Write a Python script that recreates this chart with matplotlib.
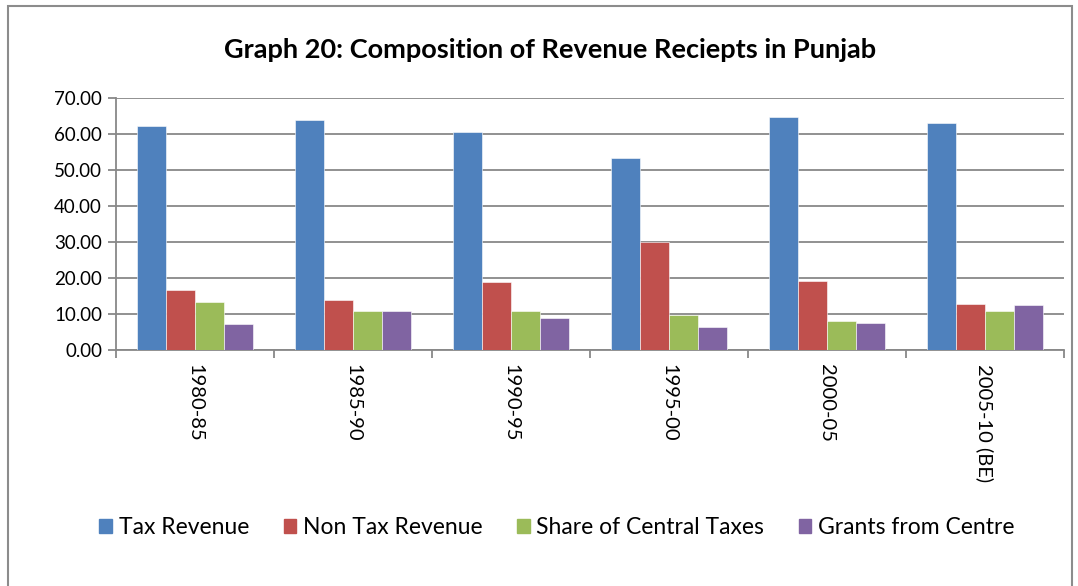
import matplotlib.pyplot as plt
import matplotlib.patches as mpatches
import numpy as np

plt.rcParams['font.family'] = ['Lato', 'DejaVu Sans']

# data
periods = ['1980-85', '1985-90', '1990-95', '1995-00', '2000-05', '2005-10 (BE)']
tax_rev = [62.3, 63.9, 60.5, 53.3, 64.6, 63.1]
non_tax_rev = [16.7, 13.8, 18.9, 29.9, 19.3, 12.8]
central_share = [13.3, 10.8, 10.9, 9.7, 8.1, 10.9]
grants = [7.2, 10.9, 8.9, 6.3, 7.4, 12.6]

series = [tax_rev, non_tax_rev, central_share, grants]
names = ['Tax Revenue', 'Non Tax Revenue', 'Share of Central Taxes', 'Grants from Centre']
colors = ['#4F81BD', '#C0504D', '#9BBB59', '#8064A2']

fig = plt.figure(figsize=(10.78, 5.86), dpi=100)
ax = fig.add_axes([116/1078, 1-350/586, (1064-116)/1078, (350-98)/586])

x = np.arange(len(periods))
w = 0.183
for k, (vals, c) in enumerate(zip(series, colors)):
    ax.bar(x + (k-1.5)*w, vals, width=w, color=c, edgecolor='white', linewidth=0.4, zorder=3)

ax.set_xlim(-0.5, len(periods)-0.5)
ax.set_ylim(0, 70)
ax.set_yticks(np.arange(0, 71, 10))
ax.set_yticklabels(['%.2f' % v for v in np.arange(0, 71, 10)], fontsize=13.5)
ax.yaxis.grid(True, color='#888888', linewidth=1.3, zorder=0)

# category labels centred, tick marks at the group boundaries
ax.set_xticks(np.arange(-0.5, len(periods), 1))
ax.set_xticklabels([])
ax.set_xticks(x, minor=True)
ax.set_xticklabels(periods, minor=True, rotation=-90, fontsize=14.5, va='top')
ax.tick_params(axis='x', which='minor', length=0, pad=10)
ax.tick_params(axis='x', which='major', length=6, color='#888888', width=1.3)
ax.tick_params(axis='y', length=6, color='#888888', width=1.3, pad=4)

for s in ['top', 'right']:
    ax.spines[s].set_visible(False)
for s in ['left', 'bottom']:
    ax.spines[s].set_color('#888888')
    ax.spines[s].set_linewidth(1.3)

fig.text(550/1078, 1-50/586, 'Graph 20: Composition of Revenue Reciepts in Punjab',
         ha='center', va='center', fontsize=19.5, fontweight='bold')

handles = [mpatches.Patch(color=c, label=n) for c, n in zip(colors, names)]
fig.legend(handles=handles, loc='center', bbox_to_anchor=(557/1078, 1-528/586), ncol=4,
           frameon=False, fontsize=16.5, handlelength=0.55, handleheight=0.55,
           handletextpad=0.3, columnspacing=1.5)

# outer chart border
fig.patches.append(mpatches.Rectangle((8/1078, -0.05), (1072-8)/1078, 1.05-6/586,
                                      transform=fig.transFigure, fill=False,
                                      edgecolor='#8c8c8c', linewidth=1.5))

fig.savefig('out.png', dpi=100)
